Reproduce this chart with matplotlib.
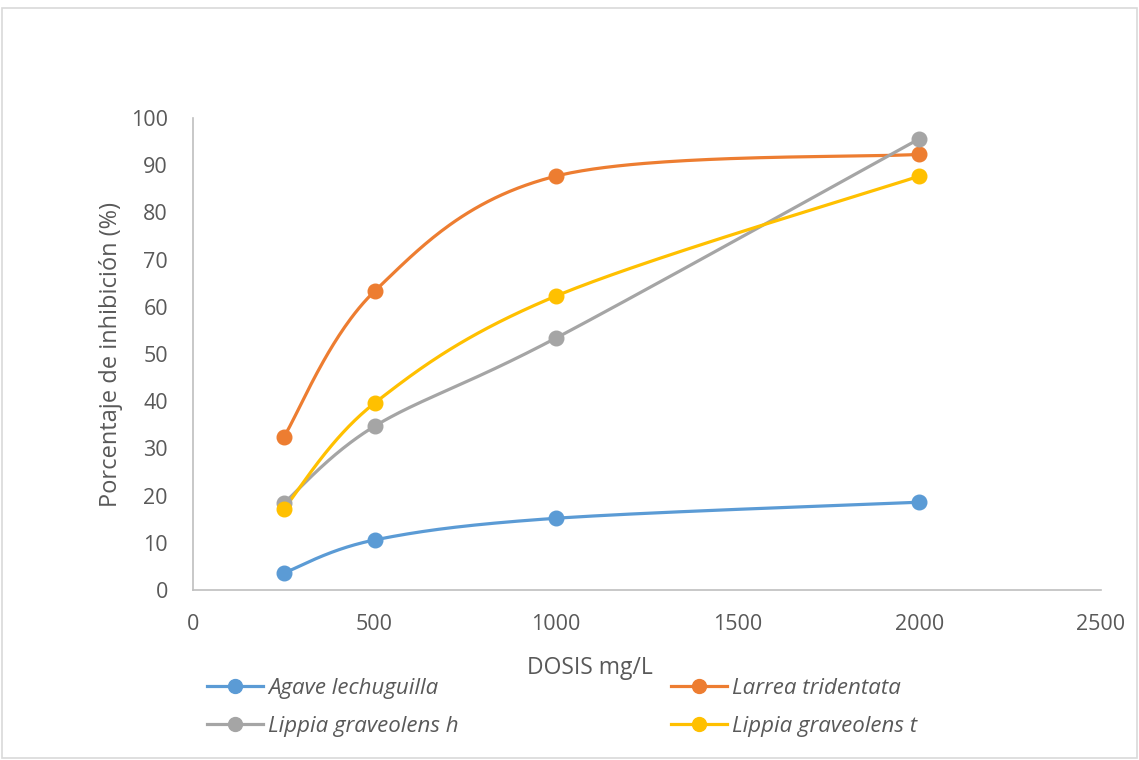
import numpy as np
import matplotlib
matplotlib.use("Agg")
import matplotlib.pyplot as plt
from matplotlib.lines import Line2D
from matplotlib.patches import Rectangle

dosis = [250, 500, 1000, 2000]
agave = [3.6, 10.6, 15.2, 18.6]
larrea = [32.4, 63.3, 87.7, 92.3]
lippia_h = [18.4, 34.7, 53.4, 95.6]
lippia_t = [17.2, 39.6, 62.3, 87.7]

series = [
    ("Agave lechuguilla", agave, "#5B9BD5"),
    ("Larrea tridentata", larrea, "#ED7D31"),
    ("Lippia graveolens h", lippia_h, "#A5A5A5"),
    ("Lippia graveolens t", lippia_t, "#FFC000"),
]

TXT = "#595959"
GRID = "#BFBFBF"
plt.rcParams["font.family"] = ["Open Sans", "DejaVu Sans"]


def smooth(xs, ys, sx, sy, n=60):
    # Catmull-Rom style Bezier through the points, done in screen-like units
    p = np.column_stack([np.asarray(xs, float) * sx, np.asarray(ys, float) * sy])
    pts = np.vstack([p[0], p, p[-1]])
    out = []
    t = np.linspace(0, 1, n)[:, None]
    for i in range(1, len(pts) - 2):
        p0, p1, p2, p3 = pts[i - 1], pts[i], pts[i + 1], pts[i + 2]
        c1 = p1 + (p2 - p0) / 6
        c2 = p2 - (p3 - p1) / 6
        seg = ((1 - t) ** 3) * p1 + 3 * ((1 - t) ** 2) * t * c1 \
            + 3 * (1 - t) * t ** 2 * c2 + t ** 3 * p2
        out.append(seg)
    c = np.vstack(out)
    return c[:, 0] / sx, c[:, 1] / sy


fig = plt.figure(figsize=(11.39, 7.6), dpi=100)
W, H = 1139, 760
fig.patches.append(Rectangle((2 / W, 2 / H), 1 - 4 / W, 1 - 10 / H,
                             transform=fig.transFigure, fill=False,
                             edgecolor="#D9D9D9", linewidth=1.2))

ax = fig.add_axes([193 / W, 1 - 590 / H, 908 / W, 472 / H])
sx, sy = 908 / 2500, 472 / 100
for name, vals, col in series:
    cx, cy = smooth(dosis, vals, sx, sy)
    ax.plot(cx, cy, color=col, lw=2.3, solid_capstyle="round", zorder=2)
    ax.plot(dosis, vals, "o", color=col, ms=10.5, zorder=3)

ax.set_xlim(0, 2500)
ax.set_ylim(0, 100)
ax.set_xticks(range(0, 2501, 500))
ax.set_yticks(range(0, 101, 10))
for s in ("top", "right"):
    ax.spines[s].set_visible(False)
for s in ("left", "bottom"):
    ax.spines[s].set_color(GRID)
    ax.spines[s].set_linewidth(1.2)
ax.tick_params(length=0, labelsize=15.5, labelcolor=TXT)
ax.tick_params(axis="x", pad=17)
ax.tick_params(axis="y", pad=18)

fig.text(111 / W, 1 - 355 / H, "Porcentaje de inhibición (%)", rotation=90,
         ha="center", va="center", fontsize=17, color=TXT)
fig.text(590 / W, 1 - 668 / H, "DOSIS mg/L", ha="center", va="center",
         fontsize=16.5, color=TXT)

handles = [Line2D([], [], color=c, lw=2.3, marker="o", ms=10) for _, _, c in series]
labels = [n for n, _, _ in series]
for cols, x0 in (((0, 2), 207), ((1, 3), 671)):
    leg = fig.legend([handles[i] for i in cols], [labels[i] for i in cols],
                     loc="upper left", bbox_to_anchor=(x0 / W, 1 - 678 / H),
                     frameon=False, handlelength=2.5, handletextpad=0.25,
                     labelspacing=0.75, borderaxespad=0, borderpad=0,
                     prop={"size": 16, "style": "italic"})
    for t in leg.get_texts():
        t.set_color(TXT)

fig.savefig("out.png", dpi=100)
